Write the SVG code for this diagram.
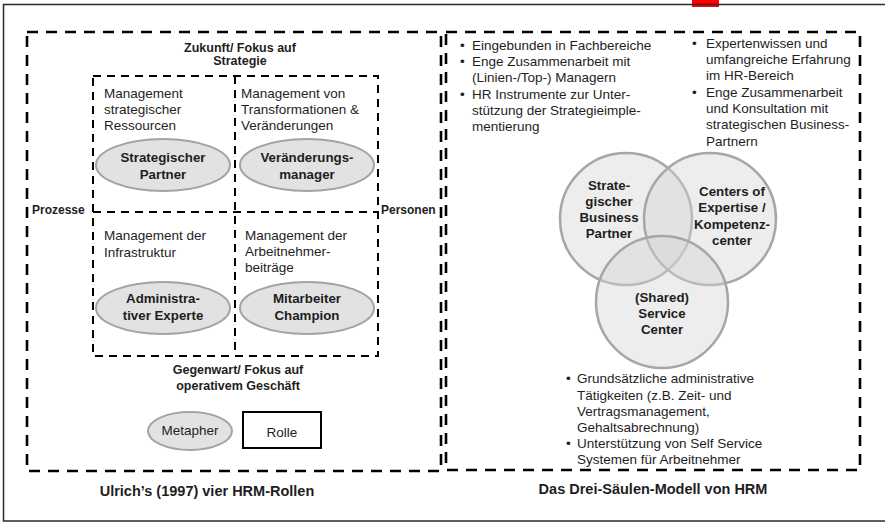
<svg xmlns="http://www.w3.org/2000/svg" width="885" height="523" viewBox="0 0 885 523">
<style>
text{font-family:"Liberation Sans",Arial,sans-serif;fill:#1e1e1e}
.r{font-size:13.5px}
.b{font-size:13.3px;font-weight:bold}
.h{font-size:12px;font-weight:bold}
.h2{font-size:12.5px;font-weight:bold}
.t{font-size:14.5px;font-weight:bold}
.m{text-anchor:middle}
.outer{fill:none;stroke:#000;stroke-width:2.6;stroke-dasharray:11 8}
.inner{fill:none;stroke:#000;stroke-width:2;stroke-dasharray:8 6}
.ell{fill:#e2e2e2;stroke:#a3a3a3;stroke-width:2}
.circ{fill:#d4d4d4;fill-opacity:0.42;stroke:#a6a6a6;stroke-width:2.5}
</style>
<rect x="0" y="0" width="885" height="523" fill="#fff"/>
<rect x="692" y="0" width="27" height="7" fill="#f00"/>
<rect x="3.5" y="4.5" width="900" height="516.5" fill="none" stroke="#2a2a2a" stroke-width="1.5"/>

<g id="ulrich-frame">
<rect class="outer" x="27" y="32" width="414" height="439"/>
<text class="h2 m" x="240" y="52">Zukunft/ Fokus auf</text>
<text class="h2 m" x="240" y="65">Strategie</text>
<text class="h" x="32" y="214">Prozesse</text>
<text class="h" x="381" y="214">Personen</text>
<text class="h2 m" x="238" y="374">Gegenwart/ Fokus auf</text>
<text class="h2 m" x="238" y="390">operativem Geschäft</text>
<text class="t m" x="207" y="496">Ulrich’s (1997) vier HRM-Rollen</text>
</g>

<g id="grid">
<rect class="inner" x="93" y="76" width="285" height="280"/>
<line class="inner" x1="93" y1="212" x2="378" y2="212"/>
<line class="inner" x1="235" y1="76" x2="235" y2="356"/>
</g>

<g id="strategischer-partner">
<text class="r" x="104" y="98">Management</text>
<text class="r" x="104" y="114">strategischer</text>
<text class="r" x="104" y="130">Ressourcen</text>
<ellipse class="ell" cx="163" cy="165" rx="67" ry="26"/>
<text class="b m" x="163" y="162">Strategischer</text>
<text class="b m" x="163" y="179">Partner</text>
</g>

<g id="veraenderungsmanager">
<text class="r" x="241" y="98">Management von</text>
<text class="r" x="241" y="114">Transformationen &amp;</text>
<text class="r" x="241" y="130">Veränderungen</text>
<ellipse class="ell" cx="307" cy="165" rx="67" ry="26"/>
<text class="b m" x="307" y="162">Veränderungs-</text>
<text class="b m" x="307" y="179">manager</text>
</g>

<g id="administrativer-experte">
<text class="r" x="104" y="240">Management der</text>
<text class="r" x="104" y="257">Infrastruktur</text>
<ellipse class="ell" cx="163" cy="308" rx="67" ry="26"/>
<text class="b m" x="163" y="303">Administra-</text>
<text class="b m" x="163" y="320">tiver Experte</text>
</g>

<g id="mitarbeiter-champion">
<text class="r" x="245" y="240">Management der</text>
<text class="r" x="245" y="256">Arbeitnehmer-</text>
<text class="r" x="245" y="272">beiträge</text>
<ellipse class="ell" cx="307" cy="308" rx="67" ry="26"/>
<text class="b m" x="307" y="303">Mitarbeiter</text>
<text class="b m" x="307" y="320">Champion</text>
</g>

<g id="legend-metapher">
<ellipse class="ell" cx="190" cy="431" rx="42" ry="19"/>
<text class="r m" x="190" y="435">Metapher</text>
</g>
<g id="legend-rolle">
<rect x="243" y="412" width="78" height="36" fill="#fff" stroke="#000" stroke-width="2"/>
<text class="r m" x="282" y="437">Rolle</text>
</g>

<g id="saeulen-frame">
<rect class="outer" x="446" y="32" width="414" height="438"/>
<text class="t m" x="653" y="494">Das Drei-Säulen-Modell von HRM</text>
</g>

<g id="sbp-notes">
<text class="r" x="460" y="50">•</text><text class="r" x="472" y="50">Eingebunden in Fachbereiche</text>
<text class="r" x="460" y="66">•</text><text class="r" x="472" y="66">Enge Zusammenarbeit mit</text>
<text class="r" x="472" y="82">(Linien-/Top-) Managern</text>
<text class="r" x="460" y="98.5">•</text><text class="r" x="472" y="98.5">HR Instrumente zur Unter-</text>
<text class="r" x="472" y="115">stützung der Strategieimple-</text>
<text class="r" x="472" y="131">mentierung</text>
</g>

<g id="coe-notes">
<text class="r" x="692" y="47.5">•</text><text class="r" x="706" y="47.5">Expertenwissen und</text>
<text class="r" x="706" y="64">umfangreiche Erfahrung</text>
<text class="r" x="706" y="80">im HR-Bereich</text>
<text class="r" x="692" y="96.5">•</text><text class="r" x="706" y="96.5">Enge Zusammenarbeit</text>
<text class="r" x="706" y="113">und Konsultation mit</text>
<text class="r" x="706" y="129">strategischen Business-</text>
<text class="r" x="706" y="145.5">Partnern</text>
</g>

<g id="strategischer-business-partner">
<circle class="circ" cx="626" cy="219" r="66"/>
</g>
<g id="centers-of-expertise">
<circle class="circ" cx="710" cy="219" r="66"/>
</g>
<g id="shared-service-center">
<circle class="circ" cx="662" cy="302" r="66"/>
</g>
<g id="venn-labels">
<text class="b m" x="609" y="189.5">Strate-</text>
<text class="b m" x="609" y="205.5">gischer</text>
<text class="b m" x="609" y="221.5">Business</text>
<text class="b m" x="609" y="238">Partner</text>
<text class="b m" x="732" y="196">Centers of</text>
<text class="b m" x="732" y="212">Expertise /</text>
<text class="b m" x="732" y="228.5">Kompetenz-</text>
<text class="b m" x="732" y="244.5">center</text>
<text class="b m" x="662" y="302">(Shared)</text>
<text class="b m" x="662" y="318">Service</text>
<text class="b m" x="662" y="334">Center</text>
</g>

<g id="ssc-notes">
<text class="r" x="566" y="383">•</text><text class="r" x="577" y="383">Grundsätzliche administrative</text>
<text class="r" x="577" y="399.5">Tätigkeiten (z.B. Zeit- und</text>
<text class="r" x="577" y="416">Vertragsmanagement,</text>
<text class="r" x="577" y="432">Gehaltsabrechnung)</text>
<text class="r" x="566" y="448">•</text><text class="r" x="577" y="448">Unterstützung von Self Service</text>
<text class="r" x="577" y="464">Systemen für Arbeitnehmer</text>
</g>
</svg>
